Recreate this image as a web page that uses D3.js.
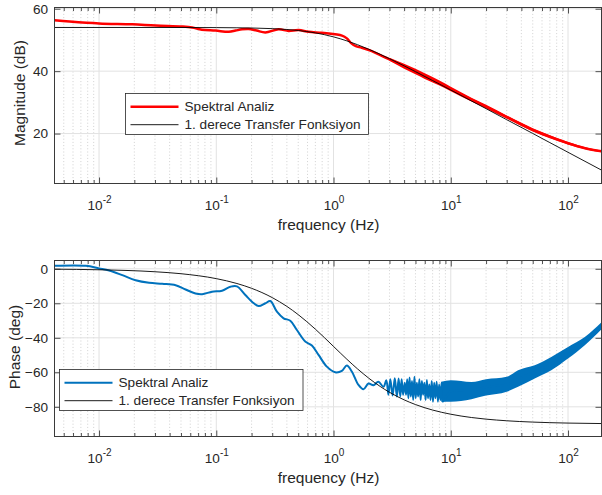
<!DOCTYPE html>
<html><head><meta charset="utf-8">
<script src="https://cdn.jsdelivr.net/npm/d3@7"></script>
<style>
body{margin:0;background:#fff}
text{font-family:"Liberation Sans",Arial,Helvetica,sans-serif;fill:#262626}
</style>
</head><body>
<svg id="c" width="602" height="495"></svg>
<script>
// ---------- data ----------
const xDomain = [0.00417, 193];
const xTickValues = [0.01, 0.1, 1, 10, 100];
const xTickExponents = ["-2", "-1", "0", "1", "2"];
const magTicks = [20, 40, 60];
const phaseTicks = [0, -20, -40, -60, -80];
const xLabel = "frequency (Hz)";
const magLabel = "Magnitude (dB)";
const phaseLabel = "Phase (deg)";
const legendLabels = ["Spektral Analiz", "1. derece Transfer Fonksiyon"];

// Spektral Analiz magnitude (dB)
const magFreq = [0.00417, 0.0056, 0.01, 0.0192, 0.0304, 0.0512, 0.0623, 0.0753, 0.0985, 0.128, 0.146, 0.166, 0.189, 0.221, 0.262, 0.34, 0.414, 0.504, 0.612, 0.795, 1.03, 1.18, 1.30, 1.42, 1.55, 1.74, 2.12, 2.58, 3.0, 4.0, 5.0, 6.0, 8.0, 10, 15, 20, 30, 50, 70, 100, 140, 193];
const magSpektral = [56.3, 55.9, 55.3, 55.0, 54.6, 54.3, 54.0, 53.3, 53.0, 52.6, 53.0, 53.4, 53.5, 53.0, 52.4, 53.4, 52.9, 53.2, 52.6, 52.3, 51.8, 51.4, 50.5, 48.9, 48.0, 47.5, 46.4, 44.9, 43.8, 41.6, 39.9, 38.4, 36.2, 34.3, 30.9, 28.6, 25.3, 21.2, 19.0, 16.9, 15.3, 14.3];
// noise envelope of the magnitude estimate
const magBandFreq = [3, 4, 5, 6, 8, 10, 15, 20, 30, 50, 70, 100, 140, 193];
const magBandHi = [44.3, 42.4, 40.8, 39.3, 37.0, 35.0, 31.5, 29.2, 25.8, 21.7, 19.5, 17.3, 15.6, 14.6];
const magBandLo = [43.3, 40.8, 39.0, 37.5, 35.4, 33.6, 30.3, 28.0, 24.8, 20.7, 18.5, 16.5, 15.0, 14.0];

// 1st order transfer function
const tfFreq = [0.00417, 0.01, 0.03, 0.05, 0.1, 0.15, 0.2, 0.3, 0.4, 0.5, 0.7, 1, 1.3, 1.6, 2, 2.5, 3, 4, 5, 7, 10, 15, 20, 30, 50, 70, 100, 193];
const magTF = [54.0, 54.0, 54.0, 53.99, 53.96, 53.9, 53.83, 53.63, 53.36, 53.03, 52.26, 50.99, 49.70, 48.49, 47.01, 45.40, 44.0, 41.70, 39.85, 36.99, 33.96, 30.46, 27.98, 24.45, 20.04, 17.10, 14.0, 8.29];
const phaseTF = [-0.24, -0.57, -1.72, -2.86, -5.71, -8.53, -11.31, -16.70, -21.80, -26.57, -34.99, -45.0, -52.43, -57.99, -63.43, -68.20, -71.57, -75.96, -78.69, -81.87, -84.29, -86.19, -87.14, -88.09, -88.85, -89.18, -89.43, -89.70];

// Spektral Analiz phase (deg)
const phaseFreq = [0.00417, 0.0077, 0.01, 0.0122, 0.0158, 0.0205, 0.0267, 0.0346, 0.045, 0.0547, 0.0665, 0.0757, 0.092, 0.112, 0.132, 0.150, 0.177, 0.209, 0.230, 0.262, 0.289, 0.329, 0.375, 0.428, 0.487, 0.574, 0.654, 0.745, 0.877, 1.034, 1.178, 1.298, 1.432, 1.633, 1.80, 1.986, 2.19, 2.41, 2.67, 2.82, 2.94, 3.05, 3.19, 3.33, 3.47, 3.59, 3.71, 3.81, 3.92,
  4.05, 4.15, 4.25, 4.35, 4.45, 4.56, 4.67, 4.78, 4.9, 5.02, 5.14, 5.27, 5.4, 5.53, 5.67, 5.81, 5.95, 6.1, 6.25, 6.4, 6.56, 6.72, 6.88, 7.05, 7.22, 7.4, 7.58, 7.77, 7.96, 8.15, 8.35, 8.55,
  10, 15, 20, 30, 37.5, 52, 72, 100, 139, 193];
const phaseSpektral = [1.7, 1.7, 0.2, -1.0, -3.7, -6.6, -8.1, -8.7, -9.5, -12.0, -14.3, -14.7, -13.3, -12.7, -10.4, -10.2, -15.2, -20.0, -21.6, -20.0, -18.7, -24.9, -28.7, -30.1, -35.5, -42.2, -44.5, -49.9, -56.7, -60.0, -59.2, -56.1, -59.5, -67.3, -69.8, -66.5, -67.5, -65.5, -68.4, -64.6, -73.0, -64.0, -73.5, -63.5, -74.0, -63.6, -74.0, -64.0, -73.0,
  -66, -73, -64, -75, -63, -74, -65, -76, -62.5, -75, -66, -74, -64, -76, -65, -73, -66, -76, -64.5, -75, -67, -76, -65, -77, -66, -75, -65.5, -77, -67, -76, -66, -77,
  -71, -70.5, -68.5, -67, -63.6, -59.7, -55, -48.6, -42, -33];
// noise envelope of the phase estimate
const phaseBandFreq = [8.3, 10, 15, 20, 30, 37.5, 52, 72, 100, 139, 193];
const phaseBandHi = [-65.5, -64.6, -65.6, -64, -62.6, -58.8, -55.9, -51.1, -45.3, -39.5, -31];
const phaseBandLo = [-77, -77, -75.6, -73.5, -71.3, -68.4, -63.6, -58.8, -52.0, -44.3, -35];

// ---------- drawing ----------
const svg = d3.select("#c");
const L = 54.5, R = 601.5;
const textCol = "#262626";
const x = d3.scaleLog().domain(xDomain).range([L, R]);

const minors = [];
for (let e = -3; e <= 2; e++) for (let k = 2; k <= 9; k++) {
  const v = k * Math.pow(10, e);
  if (v >= xDomain[0] && v <= xDomain[1]) minors.push(v);
}

function panel(cfg, id) {
  const y = d3.scaleLinear().domain(cfg.yDomain).range([cfg.bottom, cfg.top]);
  const g = svg.append("g");
  // grid
  g.append("g").selectAll("line").data(minors).join("line")
    .attr("x1", d => x(d)).attr("x2", d => x(d))
    .attr("y1", cfg.top).attr("y2", cfg.bottom)
    .attr("stroke", "#bdbdbd").attr("stroke-width", 0.7).attr("stroke-dasharray", "1,2.2");
  g.append("g").selectAll("line").data(xTickValues).join("line")
    .attr("x1", d => x(d)).attr("x2", d => x(d))
    .attr("y1", cfg.top).attr("y2", cfg.bottom)
    .attr("stroke", "#e2e2e2").attr("stroke-width", 1);
  g.append("g").selectAll("line").data(cfg.ticks).join("line")
    .attr("x1", L).attr("x2", R)
    .attr("y1", d => y(d)).attr("y2", d => y(d))
    .attr("stroke", "#e2e2e2").attr("stroke-width", 1);

  // clip
  svg.append("clipPath").attr("id", "clip" + id).append("rect")
    .attr("x", L).attr("y", cfg.top).attr("width", R - L).attr("height", cfg.bottom - cfg.top);
  const plot = g.append("g").attr("clip-path", `url(#clip${id})`);

  const area = d3.area().x(d => x(d[0])).y0(d => y(d[1])).y1(d => y(d[2])).curve(d3.curveMonotoneX);
  const bandData = cfg.bandFreq.map((f, i) => [f, cfg.bandLo[i], cfg.bandHi[i]]);
  plot.append("path").datum(bandData).attr("d", area).attr("fill", cfg.color);

  const lineM = d3.line().x(d => x(d[0])).y(d => y(d[1])).curve(d3.curveCatmullRom.alpha(0.5));
  plot.append("path").datum(cfg.freq.map((f, i) => [f, cfg.vals[i]]))
    .attr("d", lineM).attr("fill", "none").attr("stroke", cfg.color)
    .attr("stroke-width", cfg.width).attr("stroke-linejoin", "round");

  const lineT = d3.line().x(d => x(d[0])).y(d => y(d[1])).curve(d3.curveMonotoneX);
  plot.append("path").datum(tfFreq.map((f, i) => [f, cfg.tf[i]]))
    .attr("d", lineT).attr("fill", "none").attr("stroke", "#000").attr("stroke-width", 0.9);

  // axes
  const axStyle = s => s.attr("color", textCol).call(a => a.select(".domain").remove())
    .call(a => a.selectAll("line").attr("stroke-width", 0.8));
  g.append("g").attr("transform", `translate(0,${cfg.bottom})`)
    .call(d3.axisBottom(x).tickValues(minors).tickSizeInner(-3.5).tickSizeOuter(0).tickFormat(""))
    .call(axStyle);
  g.append("g").attr("transform", `translate(0,${cfg.top})`)
    .call(d3.axisTop(x).tickValues(minors).tickSizeInner(-3.5).tickSizeOuter(0).tickFormat(""))
    .call(axStyle);
  g.append("g").attr("transform", `translate(0,${cfg.top})`)
    .call(d3.axisTop(x).tickValues(xTickValues).tickSizeInner(-6).tickSizeOuter(0).tickFormat(""))
    .call(axStyle);
  const xb = g.append("g").attr("transform", `translate(0,${cfg.bottom})`)
    .call(d3.axisBottom(x).tickValues(xTickValues).tickSizeInner(-6).tickSizeOuter(0).tickPadding(17))
    .call(axStyle);
  xb.selectAll("text").each(function (d, i) {
    const t = d3.select(this).text(null).attr("dy", "0.71em")
      .attr("font-size", 13.6).attr("font-family", null).attr("text-anchor", "middle");
    t.append("tspan").text("10");
    t.append("tspan").attr("dy", -7).attr("font-size", 10).text(xTickExponents[i]);
  });
  const yl = g.append("g").attr("transform", `translate(${L},0)`)
    .call(d3.axisLeft(y).tickValues(cfg.ticks).tickSizeInner(-6).tickSizeOuter(0).tickPadding(6.5).tickFormat(d3.format("d")))
    .call(axStyle);
  yl.selectAll("text").attr("font-size", 13.6).attr("font-family", null);
  g.append("g").attr("transform", `translate(${R},0)`)
    .call(d3.axisRight(y).tickValues(cfg.ticks).tickSizeInner(-6).tickSizeOuter(0).tickFormat(""))
    .call(axStyle);
  yl.attr("font-family", null);
  xb.attr("font-family", null);

  // frame
  g.append("rect").attr("x", L).attr("y", cfg.top).attr("width", R - L).attr("height", cfg.bottom - cfg.top)
    .attr("fill", "none").attr("stroke", "#3a3a3a").attr("stroke-width", 1);

  // labels
  g.append("text").attr("x", (L + R) / 2 + 0.5).attr("y", cfg.bottom + 46)
    .attr("text-anchor", "middle").attr("font-size", 15.5).text(xLabel);
  g.append("text").attr("transform", `translate(${cfg.ylabX},${cfg.ylabY}) rotate(-90)`)
    .attr("text-anchor", "middle").attr("font-size", 15.5).text(cfg.ylabel);

  // legend
  const lg = g.append("g").attr("transform", `translate(${cfg.leg[0]},${cfg.leg[1]})`);
  lg.append("rect").attr("width", cfg.leg[2]).attr("height", 41)
    .attr("fill", "#fff").attr("stroke", "#262626").attr("stroke-width", 0.8);
  const rows = [{ c: cfg.color, w: cfg.width }, { c: "#000", w: 0.9 }];
  rows.forEach((r, i) => {
    const yy = 13.2 + i * 18;
    lg.append("line").attr("x1", 5).attr("x2", 53).attr("y1", yy).attr("y2", yy)
      .attr("stroke", r.c).attr("stroke-width", r.w);
    lg.append("text").attr("x", 59).attr("y", yy).attr("dy", "0.35em")
      .attr("font-size", 13.6).text(legendLabels[i]);
  });
}

panel({
  top: 7.5, bottom: 183.5, yDomain: [4, 60.4], ticks: magTicks,
  freq: magFreq, vals: magSpektral, tf: magTF,
  bandFreq: magBandFreq, bandLo: magBandLo, bandHi: magBandHi,
  color: "#ff0000", width: 2.5,
  ylabel: magLabel, ylabX: 24.5, ylabY: 93,
  leg: [125.5, 93.5, 243]
}, 1);

panel({
  top: 260.5, bottom: 436.5, yDomain: [-97.2, 4.8], ticks: phaseTicks,
  freq: phaseFreq, vals: phaseSpektral, tf: phaseTF,
  bandFreq: phaseBandFreq, bandLo: phaseBandLo, bandHi: phaseBandHi,
  color: "#0072bd", width: 2,
  ylabel: phaseLabel, ylabX: 20, ylabY: 347,
  leg: [59.5, 369.5, 243.5]
}, 2);
</script>
</body></html>
